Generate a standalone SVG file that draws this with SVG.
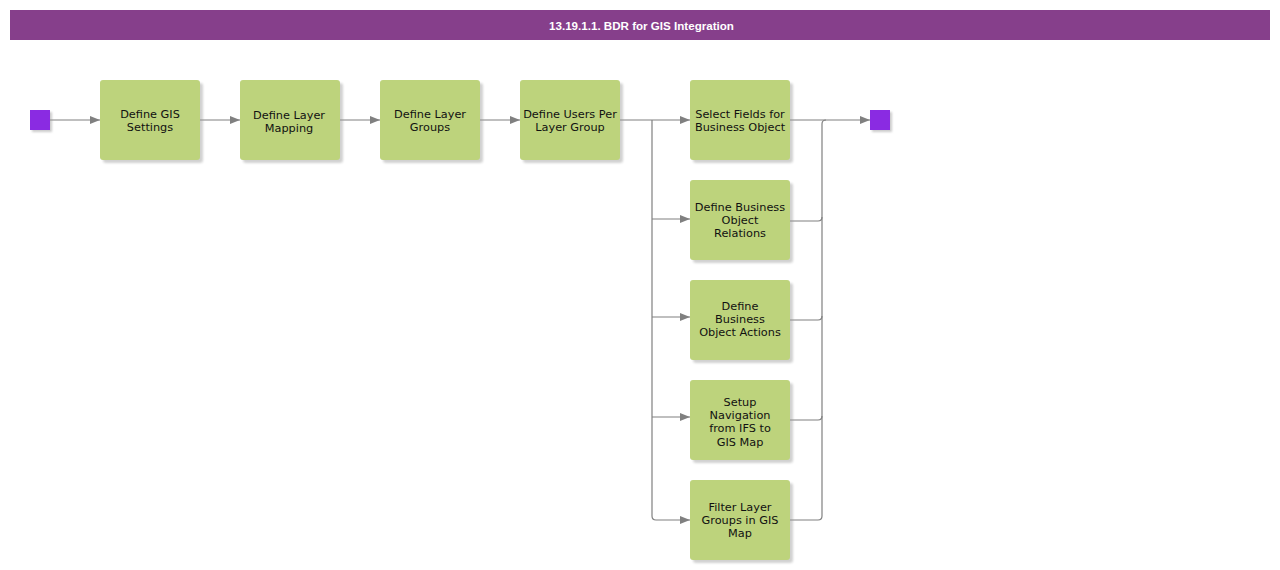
<svg xmlns="http://www.w3.org/2000/svg" width="1280" height="570" viewBox="0 0 1280 570">
<style>
.node rect.box{fill:#BDD37C;}
.node rect.sh{fill:#9a9a9a;opacity:0.45;}
.node text{font-family:"DejaVu Sans",Verdana,sans-serif;font-size:11.3px;fill:#111;text-anchor:middle;dominant-baseline:central;}
.term{fill:#8A2BE2;}
.conn path{fill:none;stroke:#808080;stroke-width:1.2;}
</style>
<defs>
<marker id="arr" markerWidth="10" markerHeight="8" refX="10" refY="4" orient="auto" markerUnits="userSpaceOnUse">
<path d="M0,0 L10,4 L0,8 z" fill="#808080"/>
</marker>
<filter id="blur" x="-10%" y="-10%" width="130%" height="130%"><feGaussianBlur stdDeviation="1.2"/></filter>
</defs>
<rect x="10" y="10" width="1260" height="30" fill="#863F8B"/>
<text x="641.5" y="25" font-family="'Liberation Sans',Arial,sans-serif" font-size="11.6" font-weight="bold" fill="#fff" text-anchor="middle" dominant-baseline="central">13.19.1.1. BDR for GIS Integration</text>

<g id="connectors" class="conn">
<path d="M50,120 H100" marker-end="url(#arr)"/>
<path d="M200,120 H240" marker-end="url(#arr)"/>
<path d="M340,120 H380" marker-end="url(#arr)"/>
<path d="M480,120 H520" marker-end="url(#arr)"/>
<path d="M620,120 H690" marker-end="url(#arr)"/>
<path d="M652,120 V516 Q652,520 656,520 H690" marker-end="url(#arr)"/>
<path d="M652,219 H690" marker-end="url(#arr)"/>
<path d="M652,317 H690" marker-end="url(#arr)"/>
<path d="M652,417 H690" marker-end="url(#arr)"/>
<path d="M790,120 H870" marker-end="url(#arr)"/>
<path d="M790,520 H818 Q822,520 822,516 V124 Q822,120 826,120"/>
<path d="M790,221 H818 Q822,221 822,217"/>
<path d="M790,320 H818 Q822,320 822,316"/>
<path d="M790,420 H818 Q822,420 822,416"/>
</g>

<g id="start"><rect x="32" y="112" width="20" height="20" fill="#999" opacity="0.5" filter="url(#blur)"/><rect class="term" x="30" y="110" width="20" height="20"/></g>
<g id="end"><rect x="872" y="112" width="20" height="20" fill="#999" opacity="0.5" filter="url(#blur)"/><rect class="term" x="870" y="110" width="20" height="20"/></g>

<g id="n1" class="node"><rect class="sh" x="103" y="83" width="100" height="80" rx="3" filter="url(#blur)"/><rect class="box" x="100" y="80" width="100" height="80" rx="3"/><text x="150" y="114">Define GIS</text><text x="150" y="127">Settings</text></g>
<g id="n2" class="node"><rect class="sh" x="243" y="83" width="100" height="80" rx="3" filter="url(#blur)"/><rect class="box" x="240" y="80" width="100" height="80" rx="3"/><text x="289" y="115">Define Layer</text><text x="289" y="128">Mapping</text></g>
<g id="n3" class="node"><rect class="sh" x="383" y="83" width="100" height="80" rx="3" filter="url(#blur)"/><rect class="box" x="380" y="80" width="100" height="80" rx="3"/><text x="430" y="114">Define Layer</text><text x="430" y="127">Groups</text></g>
<g id="n4" class="node"><rect class="sh" x="523" y="83" width="100" height="80" rx="3" filter="url(#blur)"/><rect class="box" x="520" y="80" width="100" height="80" rx="3"/><text x="570" y="114">Define Users Per</text><text x="570" y="127">Layer Group</text></g>
<g id="n5" class="node"><rect class="sh" x="693" y="83" width="100" height="80" rx="3" filter="url(#blur)"/><rect class="box" x="690" y="80" width="100" height="80" rx="3"/><text x="740" y="114">Select Fields for</text><text x="740" y="127">Business Object</text></g>
<g id="n6" class="node"><rect class="sh" x="693" y="183" width="100" height="80" rx="3" filter="url(#blur)"/><rect class="box" x="690" y="180" width="100" height="80" rx="3"/><text x="740" y="207">Define Business</text><text x="740" y="220">Object</text><text x="740" y="233">Relations</text></g>
<g id="n7" class="node"><rect class="sh" x="693" y="283" width="100" height="80" rx="3" filter="url(#blur)"/><rect class="box" x="690" y="280" width="100" height="80" rx="3"/><text x="740" y="306">Define</text><text x="740" y="319">Business</text><text x="740" y="332">Object Actions</text></g>
<g id="n8" class="node"><rect class="sh" x="693" y="383" width="100" height="80" rx="3" filter="url(#blur)"/><rect class="box" x="690" y="380" width="100" height="80" rx="3"/><text x="740" y="402">Setup</text><text x="740" y="415">Navigation</text><text x="740" y="428">from IFS to</text><text x="740" y="442">GIS Map</text></g>
<g id="n9" class="node"><rect class="sh" x="693" y="483" width="100" height="80" rx="3" filter="url(#blur)"/><rect class="box" x="690" y="480" width="100" height="80" rx="3"/><text x="740" y="507">Filter Layer</text><text x="740" y="520">Groups in GIS</text><text x="740" y="533">Map</text></g>
</svg>
